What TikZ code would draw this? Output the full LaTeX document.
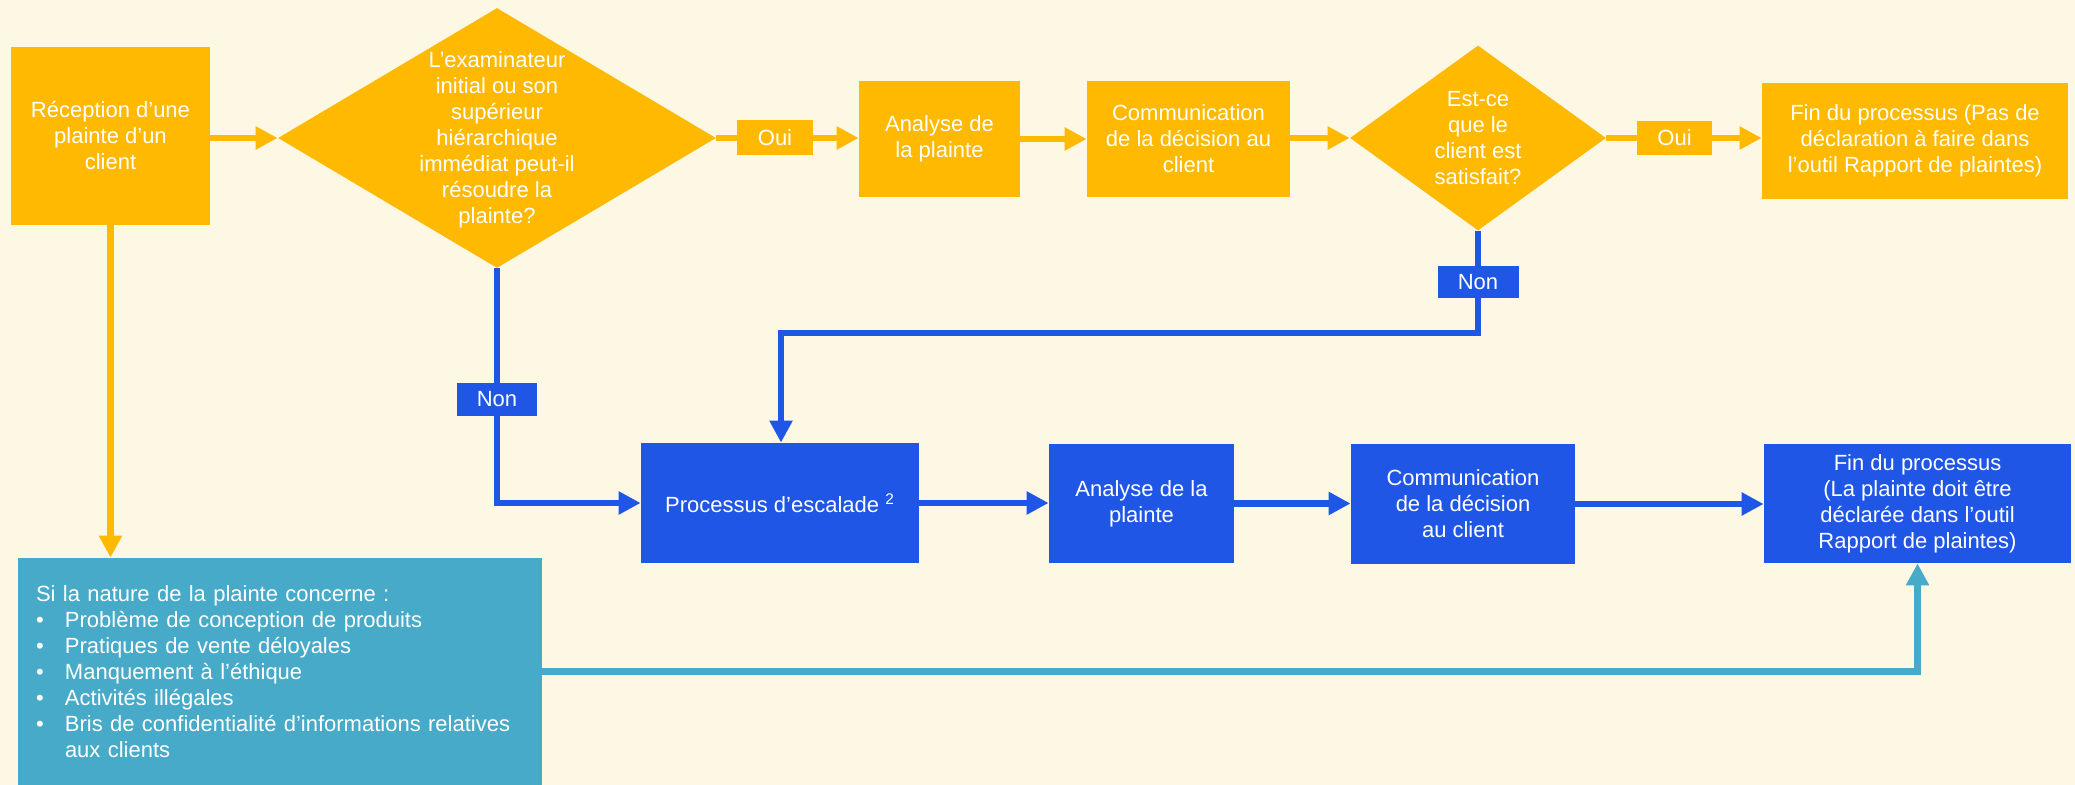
\documentclass[tikz,border=0pt]{standalone}
\usepackage{fontspec}
\setmainfont{Liberation Sans}
\usetikzlibrary{shapes.geometric,arrows.meta}
\definecolor{bg}{RGB}{252,248,228}
\definecolor{orng}{RGB}{255,185,0}
\definecolor{blu}{RGB}{31,86,230}
\definecolor{tealc}{RGB}{70,170,200}
\begin{document}
\begin{tikzpicture}[x={(0.5pt,0pt)},y={(0pt,-0.5pt)},
  every node/.style={font=\fontsize{11pt}{13pt}\selectfont, text=white, inner sep=0pt, align=center},
  obox/.style={rectangle, fill=orng},
  bbox/.style={rectangle, fill=blu},
  odia/.style={diamond, fill=orng},
  conn/.style={line width=3.2pt},
  oline/.style={conn, draw=orng},
  bline/.style={conn, draw=blu},
  tline/.style={conn, draw=tealc},
  tip/.style={-{Triangle[length=11pt,width=11pt]}}
]
\fill[bg] (0,0) rectangle (2075,785);
\useasboundingbox (0,0) rectangle (2075,785);

% top row (orange)
\node[obox, minimum width=99.5pt, minimum height=89pt] (rec) at (110.5,136) {Réception d’une\\plainte d’un\\client};
\node[odia, minimum width=219pt, minimum height=130pt] (d1) at (497,138) {};
\node (d1t) at (497,140) {L’examinateur\\initial ou son\\supérieur\\hiérarchique\\immédiat peut-il\\résoudre la\\plainte?};
\node[obox, minimum width=38pt, minimum height=17.5pt] (oui1) at (775,138) {Oui};
\node[obox, minimum width=80.5pt, minimum height=58pt] (an1) at (939.5,139) {Analyse de\\la plainte};
\node[obox, minimum width=101.5pt, minimum height=58pt] (com1) at (1188.5,139) {Communication\\de la décision au\\client};
\node[odia, minimum width=128pt, minimum height=92.5pt] (d2) at (1478,138) {};
\node (d2t) at (1478,138) {Est-ce\\que le\\client est\\satisfait?};
\node[obox, minimum width=37.5pt, minimum height=17pt] (oui2) at (1674.5,138) {Oui};
\node[obox, minimum width=153pt, minimum height=58pt] (fin1) at (1915,141) {Fin du processus (Pas de\\déclaration à faire dans\\l’outil Rapport de plaintes)};

% labels Non
\node[bbox, minimum width=40.5pt, minimum height=16pt] (non2) at (1478,282) {Non};
\node[bbox, minimum width=40pt, minimum height=16.5pt] (non1) at (497,399.5) {Non};

% bottom row (blue)
\node[bbox, minimum width=139pt, minimum height=60pt] (esc) at (780,503) {Processus d’escalade \textsuperscript{2}};
\node[bbox, minimum width=92.5pt, minimum height=59.5pt] (an2) at (1141.5,503.5) {Analyse de la\\plainte};
\node[bbox, minimum width=112pt, minimum height=60pt] (com2) at (1463,504) {Communication\\de la décision\\au client};
\node[bbox, minimum width=153.5pt, minimum height=59.5pt] (fin2) at (1917.5,503.5) {Fin du processus\\(La plainte doit être\\déclarée dans l’outil\\Rapport de plaintes)};

% teal box
\node[rectangle, fill=tealc, minimum width=262pt, minimum height=113.5pt, text width=244pt, align=left] (cond) at (280,671.5) {Si la nature de la plainte concerne :\\
\makebox[14.5pt][l]{•}Problème de conception de produits\\
\makebox[14.5pt][l]{•}Pratiques de vente déloyales\\
\makebox[14.5pt][l]{•}Manquement à l’éthique\\
\makebox[14.5pt][l]{•}Activités illégales\\
\makebox[14.5pt][l]{•}Bris de confidentialité d’informations relatives\\
\hspace*{14.5pt}aux clients};

\coordinate (j2) at (781,333);

% orange connectors
\draw[oline, tip] (rec.east |- d1.west) -- (d1.west);
\draw[oline] (d1.east) -- (oui1.west);
\draw[oline, tip] (oui1.east) -- (oui1.east -| an1.west);
\draw[oline, tip] (an1.east) -- (com1.west);
\draw[oline, tip] (com1.east |- d2.west) -- (d2.west);
\draw[oline] (d2.east) -- (oui2.west);
\draw[oline, tip] (oui2.east) -- (oui2.east -| fin1.west);
\draw[oline, tip] (rec.south) -- (rec.south |- cond.north);

% blue connectors
\draw[bline] (d1.south) -- (non1.north);
\draw[bline, tip] (non1.south) |- (esc.west);
\draw[bline] (d2.south) -- (non2.north);
\draw[bline, tip] (non2.south) |- (j2) -- (j2 |- esc.north);
\draw[bline, tip] (esc.east) -- (esc.east -| an2.west);
\draw[bline, tip] (an2.east) -- (an2.east -| com2.west);
\draw[bline, tip] (com2.east) -- (com2.east -| fin2.west);

% teal connector
\draw[tline, tip] (cond.east) -| (fin2.south);
\end{tikzpicture}
\end{document}
